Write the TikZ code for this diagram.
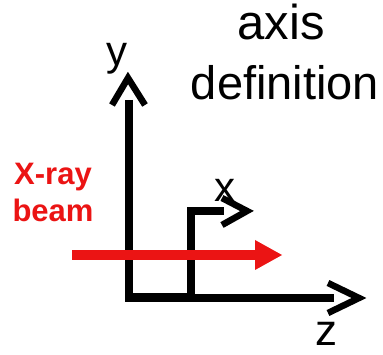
\documentclass[tikz,border=0pt]{standalone}
\usepackage{fontspec}
\setmainfont{Liberation Sans}
\definecolor{beamred}{RGB}{235,20,20}
\begin{document}
\begin{tikzpicture}[x=1pt,y=-1pt,
  axisline/.style={line width=8pt, black, line join=miter, line cap=butt},
  chev/.style={line width=6.5pt, black, line join=miter, line cap=butt},
  bigtext/.style={font=\fontsize{47}{50}\selectfont, anchor=base, inner sep=0pt},
  axlabel/.style={font=\fontsize{42}{46}\selectfont, anchor=base, inner sep=0pt},
  beamtext/.style={font=\bfseries\fontsize{31}{34}\selectfont, text=beamred, anchor=base, inner sep=0pt}]
\useasboundingbox (0,0) rectangle (383,355);
% coordinates
\coordinate (O) at (129,298);
\coordinate (Ytop) at (129,100);
\coordinate (Xc) at (191,298);
\coordinate (Xcorner) at (191,211);
\coordinate (Xend) at (224,211);
\coordinate (Zend) at (334,298);
% axes
\draw[axisline] (Ytop) -- (129,302);
\draw[line width=9pt, black] (125,298) -- (Xc);
\draw[axisline] (Xc) -- (Zend);
\draw[axisline] (191,302) -- (Xcorner) -- (Xend);
% chevrons
\draw[chev] (112,105) -- (128,78) -- (145,105);
\draw[chev] (222,198) -- (247,211) -- (222,225);
\draw[chev] (328,283) -- (359,298) -- (328,313);
% labels
\node[axlabel] (ylab) at (117,66) {y};
\node[axlabel] (xlab) at (225,202) {x};
\node[font=\fontsize{44}{47}\selectfont, anchor=base, inner sep=0pt] (zlab) at (326,346) {z};
\node[font=\fontsize{49}{52}\selectfont, anchor=base, inner sep=0pt] (axis) at (281,40) {axis};
\node[bigtext] (def) at (285,100) {definition};
\node[beamtext] (xray) at (53,185) {X-ray};
\node[beamtext] (beam) at (53,222) {beam};
% beam arrow
\coordinate (Bstart) at (72,255);
\coordinate (Bbase) at (255,255);
\coordinate (Btip) at (282,255);
\draw[beamred, line width=10pt] (Bstart) -- (Bbase);
\fill[beamred] (255,240) -- (Btip) -- (255,270) -- cycle;
\end{tikzpicture}
\end{document}
